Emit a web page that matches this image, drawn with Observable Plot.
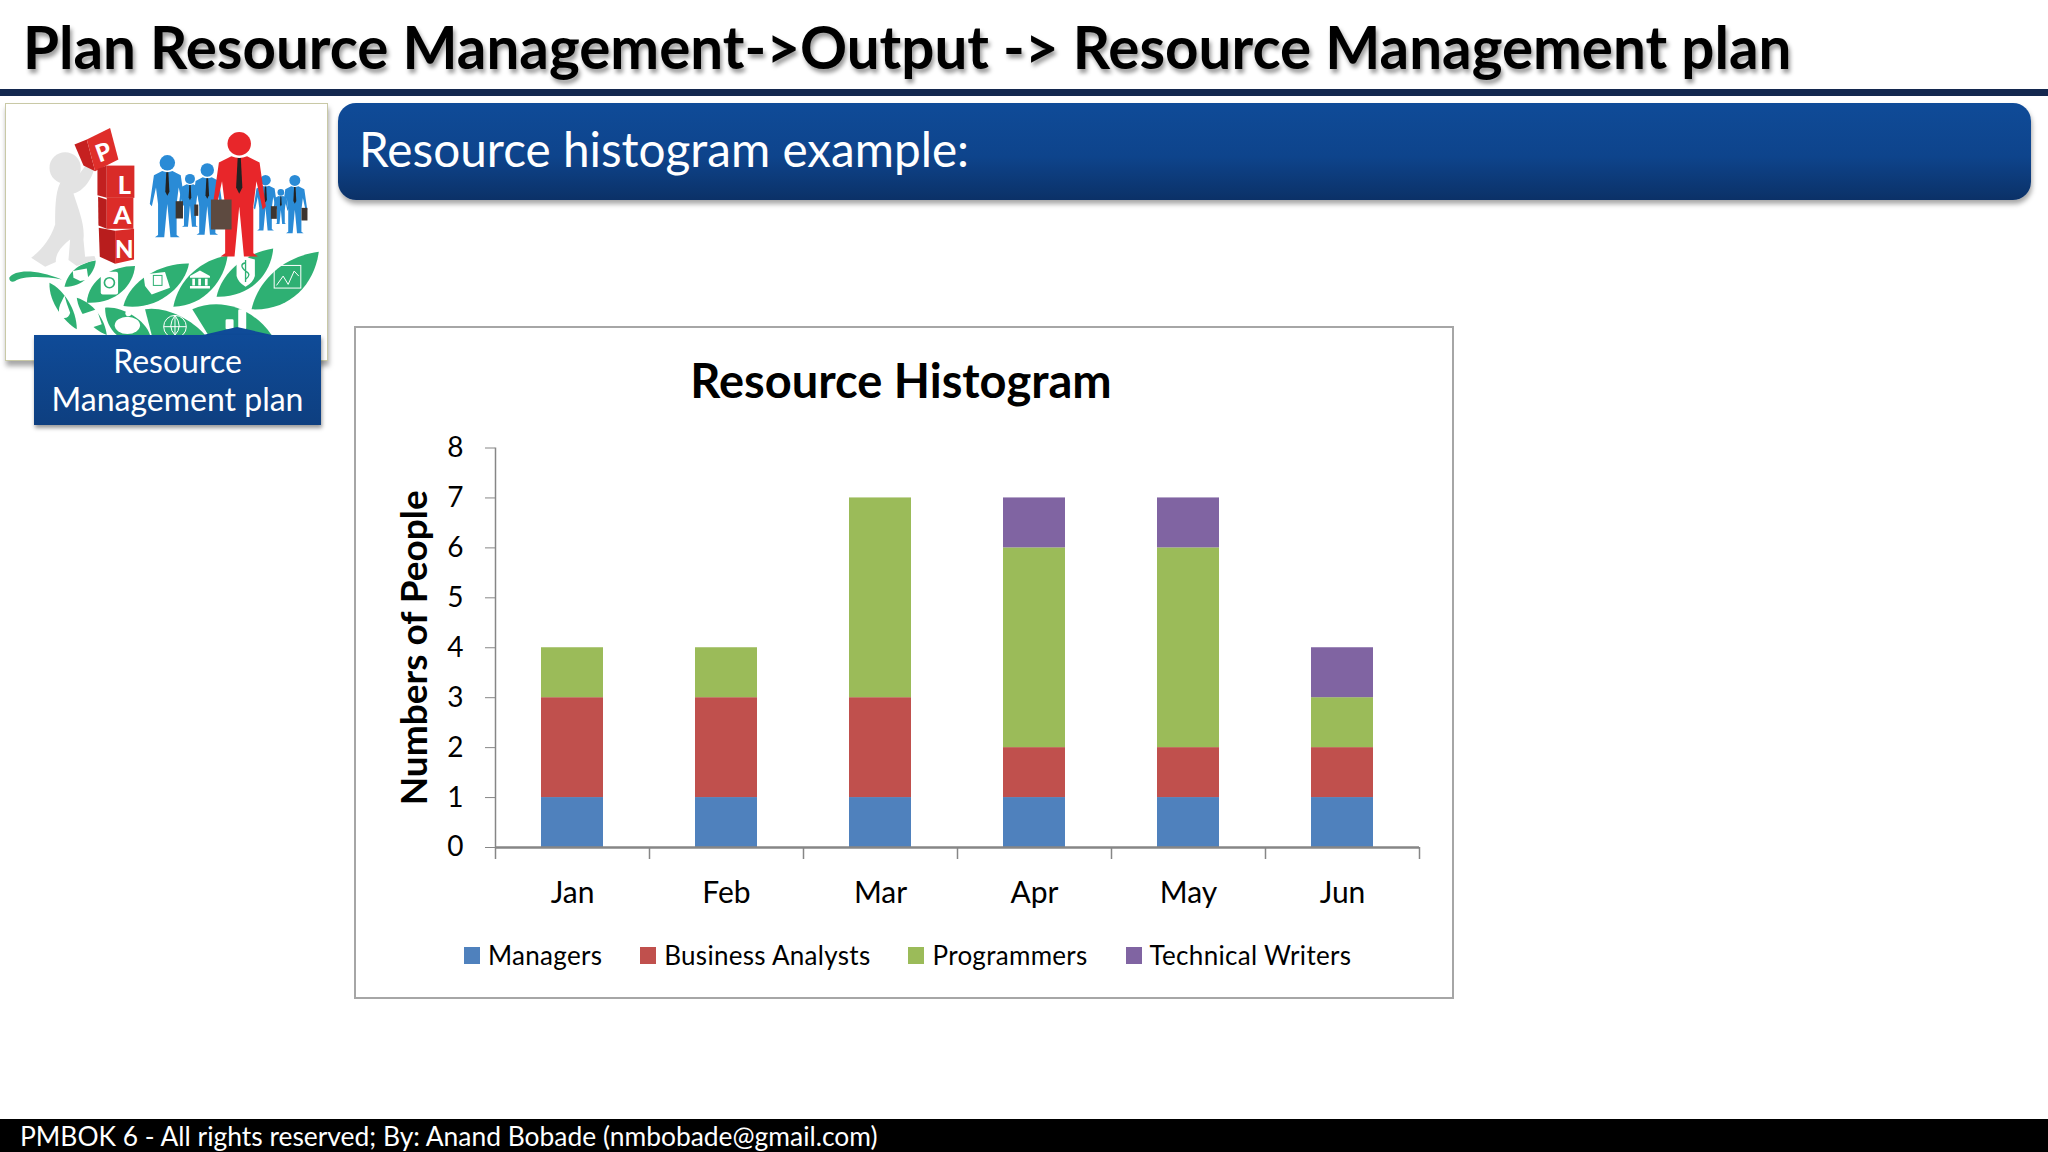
<!DOCTYPE html>
<html><head><meta charset="utf-8">
<script src="https://cdn.jsdelivr.net/npm/d3@7"></script>
<script src="https://cdn.jsdelivr.net/npm/@observablehq/plot@0.6"></script>
<style>
html,body{margin:0;padding:0;background:#fff;}
#slide{position:relative;width:2048px;height:1152px;overflow:hidden;background:#fff;font-family:Lato,"Open Sans",sans-serif;color:#000;}
#slide>*{position:absolute;}
#head{left:23px;top:10px;font-size:58.3px;font-weight:700;line-height:72px;white-space:nowrap;text-shadow:2px 4px 4px rgba(0,0,0,.4);}
#rule{left:0;top:89px;width:2048px;height:7px;background:#14284f;}
#band{left:338px;top:103px;width:1693px;height:97px;border-radius:18px;background:linear-gradient(#0f4b98,#0e448c 55%,#0b3167);box-shadow:1px 4px 5px rgba(0,0,0,.35);}
#bandtext{left:359px;top:121px;color:#fff;font-size:47.7px;line-height:56px;white-space:nowrap;}
#pic{left:5px;top:103px;width:323px;height:258px;border:1.5px solid #c9c9a6;box-sizing:border-box;box-shadow:1px 5px 5px rgba(0,0,0,.35);background:#fff;}
#art{left:5px;top:103px;}
#tag{left:34px;top:335px;width:287px;height:90px;background:linear-gradient(#0f4b98,#0e3f80);box-shadow:1px 3px 4px rgba(0,0,0,.4);color:#fff;text-align:center;font-size:32px;line-height:37.5px;padding-top:7px;box-sizing:border-box;}
#frame{left:354px;top:326px;width:1100px;height:673px;border:2px solid #a6a6a6;box-sizing:border-box;background:#fff;}
#ctitle{left:354px;top:352px;width:1100px;text-align:center;font-size:47px;font-weight:700;line-height:56px;margin-left:-3px;}
#chart{left:354px;top:416px;}
#chart svg{display:block;max-width:none;}
#legend{left:464px;top:938px;display:flex;gap:38px;font-size:26px;letter-spacing:.3px;line-height:34px;white-space:nowrap;}
#legend span.k{display:flex;align-items:center;}
#legend i{display:block;width:16px;height:17px;margin-right:8px;}
#foot{left:0;top:1119px;width:2048px;height:33px;background:#000;color:#fff;font-size:26.4px;line-height:35px;white-space:nowrap;}
#foot span{margin-left:20px;}
</style></head><body>
<div id="slide">
  <div id="head">Plan Resource Management-&gt;Output -&gt; Resource Management plan</div>
  <div id="rule"></div>
  <div id="pic"></div>
  <svg id="art" width="325" height="232" viewBox="0 0 975 697">
    <defs>
      <g id="man"><circle cx="0" cy="8" r="7.5"/><path d="M-5 16Q0 18 5 16L13 20L17 48L15 50L11 32L9 48L9 78L12 80H3L0 48L-3 80H-12L-9 78L-9 48L-11 32L-15 50L-17 48L-13 20Z"/><path d="M-1 17H1L2 36L0 40L-2 36Z" fill="#222"/></g>
    </defs>
    <g fill="#2eb073">
      <path d="M12 525C30 500 90 498 170 530C110 520 50 520 30 535C20 540 12 535 12 525Z"/>
      <path d="M178 552C190 500 230 480 272 473C270 510 235 552 178 552Z"/>
      <path d="M245 600C250 530 320 490 390 490C385 550 330 605 245 600Z"/>
      <path d="M355 610C375 530 470 480 552 482C540 550 460 625 355 610Z"/>
      <path d="M505 612C520 530 590 470 668 458C660 530 600 610 505 612Z"/>
      <path d="M635 582C650 510 720 450 805 437C800 510 740 585 635 582Z"/>
      <path d="M740 620C760 530 840 460 942 447C930 540 860 625 740 620Z"/>
      <path d="M215 680C180 660 130 600 133 540C175 560 215 620 215 680Z"/>
      <path d="M305 697C260 680 220 630 215 585C265 600 300 650 305 697Z"/>
      <path d="M435 697C420 650 350 610 300 615C300 650 315 680 335 697Z"/>
      <path d="M420 620C480 610 560 650 600 697H440Z"/>
      <path d="M562 620C640 585 740 610 800 697H610Z"/>
    </g>
    <g fill="#fff">
      <path d="M203 505L245 497L250 530L225 535L205 525Z"/>
      <rect x="287" y="507" width="52" height="68" rx="6"/>
      <path d="M415 515L480 508L495 555L440 575L420 550Z"/>
      <path d="M555 520L585 503L615 520V525H555ZM562 528H570V548H562ZM580 528H588V548H580ZM600 528H608V548H600ZM555 550H615V557H555Z"/>
      <path d="M695 470Q712 470 722 460Q735 470 750 470V520Q745 540 722 552Q700 540 695 520Z"/>
      <path d="M178 578L185 602L195 630Q190 650 170 645Q155 630 165 605Z"/>
      <path d="M230 635L275 620L290 665L245 680Z"/>
      <ellipse cx="367" cy="668" rx="38" ry="26"/>
      <circle cx="370" cy="632" r="9"/>
      <rect x="700" y="620" width="24" height="60" rx="4"/>
      <rect x="662" y="650" width="24" height="30" rx="4"/>
    </g>
    <g fill="none" stroke="#fff" stroke-width="3">
      <rect x="808" y="488" width="80" height="68"/>
      <path d="M815 548L835 520L850 545L868 505L882 520"/>
      <circle cx="510" cy="672" r="34"/>
      <path d="M476 672H544M510 638V697M510 638Q485 672 510 697M510 638Q535 672 510 697"/>
    </g>
    <circle cx="313" cy="540" r="15" fill="none" stroke="#2eb073" stroke-width="5"/>
    <path d="M722 480Q700 485 722 505Q742 515 722 530M722 472V538" fill="none" stroke="#2eb073" stroke-width="4"/>
    <rect x="445" y="518" width="26" height="30" fill="none" stroke="#2eb073" stroke-width="3"/>
    <g fill="#e3e3e3">
      <circle cx="180" cy="195" r="47"/>
      <path d="M165 240C205 240 235 205 248 172L268 192C262 228 235 265 205 272C220 320 240 365 235 410L240 462L268 460L272 470L215 490L190 472L195 410C175 425 150 450 152 478L120 492L78 465C110 440 135 410 150 365C150 320 150 270 165 240Z"/>
    </g>
    <path d="M208 125L245 110L270 205L235 188Z" fill="#c62020"/>
    <path d="M245 110L315 75L340 170L270 205Z" fill="#df2e2a"/>
    <path d="M277 198L305 188V285L277 277Z" fill="#c22020"/>
    <rect x="305" y="188" width="83" height="97" fill="#d92b28"/>
    <path d="M279 282L305 290V378L280 368Z" fill="#b81d1d"/>
    <rect x="305" y="285" width="80" height="93" fill="#dc2c29"/>
    <path d="M281 375L330 384V483L284 462Z" fill="#b81d1d"/>
    <path d="M330 384L387 378V470L330 483Z" fill="#d92b28"/>
    <g fill="#fff" font-family="Lato" font-weight="900" text-anchor="middle">
      <text x="296" y="172" font-size="72" transform="rotate(-20 296 150)">P</text>
      <text x="358" y="272" font-size="76">L</text>
      <text x="352" y="365" font-size="76">A</text>
      <text x="358" y="465" font-size="72">N</text>
    </g>
    <g fill="#2a8bd6">
      <use href="#man" transform="translate(555 212) scale(2)"/>
      <use href="#man" transform="translate(828 258) scale(1.32)"/>
      <use href="#man" transform="translate(487 155) scale(3.1)"/>
      <use href="#man" transform="translate(607 180) scale(2.7)"/>
      <use href="#man" transform="translate(782 215) scale(2.1)"/>
      <use href="#man" transform="translate(870 215) scale(2.2)"/>
    </g>
    <g fill="#3d352f">
      <rect x="512" y="295" width="22" height="52"/>
      <rect x="568" y="305" width="12" height="34"/>
      <rect x="798" y="310" width="18" height="38"/>
      <rect x="890" y="315" width="18" height="38"/>
    </g>
    <use href="#man" fill="#e8262a" transform="translate(703 85) scale(4.7)"/>
    <rect x="618" y="290" width="62" height="90" fill="#5d4a40"/>
  </svg>
  <div id="band"></div>
  <div id="bandtext">Resource histogram example:</div>
  <svg style="left:190px;top:325px" width="100" height="12"><path d="M13 10L47 2L82 10Z" fill="#0f4b98"/></svg>
  <div id="tag">Resource<br>Management plan</div>
  <div id="frame"></div>
  <div id="ctitle">Resource Histogram</div>
  <div id="chart"></div>
  <div id="legend"></div>
  <div id="foot"><span>PMBOK 6 - All rights reserved; By: Anand Bobade (nmbobade@gmail.com)</span></div>
</div>
<script>
const months = ["Jan","Feb","Mar","Apr","May","Jun"];
const seriesNames = ["Managers","Business Analysts","Programmers","Technical Writers"];
const seriesColors = ["#4f81bd","#c0504d","#9bbb59","#8064a2"];
const managers = [1,1,1,1,1,1];
const businessAnalysts = [2,2,2,1,1,1];
const programmers = [1,1,4,4,4,1];
const technicalWriters = [0,0,0,1,1,1];
const yTicks = [0,1,2,3,4,5,6,7,8];

const seriesValues = [managers,businessAnalysts,programmers,technicalWriters];
const rows = seriesValues.flatMap((vals,s)=>vals.map((v,i)=>({month:months[i],series:seriesNames[s],value:v})));

const axisGray = "#868686";
const plotW = 1100, mL = 141, mR = 35, band = (plotW-mL-mR)/months.length;
const chart = Plot.plot({
  width: plotW, height: 509,
  marginLeft: mL, marginRight: mR, marginTop: 31.5, marginBottom: 78,
  style: {fontFamily:"Lato, sans-serif", background:"transparent", overflow:"visible"},
  x: {domain: months, padding: 0, label: null},
  y: {domain: [0,8], label: null},
  color: {domain: seriesNames, range: seriesColors},
  marks: [
    Plot.barY(rows, {x:"month", y:"value", fill:"series", order:null, insetLeft:46, insetRight:46}),
    Plot.ruleY([0], {stroke:axisGray, strokeWidth:2.5}),
    Plot.ruleX([months[0]], {x:d=>d, y1:0, y2:8, dx:-band/2, stroke:axisGray, strokeWidth:1.5}),
    Plot.ruleX(months, {x:d=>d, y1:0, y2:-0.24, dx:band/2, stroke:axisGray, strokeWidth:1.5}),
    Plot.ruleX([months[0]], {x:d=>d, y1:0, y2:-0.24, dx:-band/2, stroke:axisGray, strokeWidth:1.5}),
    Plot.axisY({ticks:yTicks, tickFormat:d=>String(d), tickSize:10, tickPadding:22, stroke:axisGray, fontSize:28, color:"#000", label:null}),
    Plot.axisX({tickSize:0, tickPadding:34, fontSize:30, label:null, color:"#000"}),
    Plot.text(["Numbers of People"], {frameAnchor:"left", dx:-80, rotate:-90, text:d=>d, fontSize:37, fontWeight:700, fill:"#000", textAnchor:"middle", lineAnchor:"middle"})
  ]
});
document.getElementById("chart").append(chart);

const legend = document.getElementById("legend");
seriesNames.forEach((n,i)=>{
  const k = document.createElement("span"); k.className="k";
  const sw = document.createElement("i"); sw.style.background = seriesColors[i];
  k.append(sw, document.createTextNode(n)); legend.append(k);
});
</script>
</body></html>
